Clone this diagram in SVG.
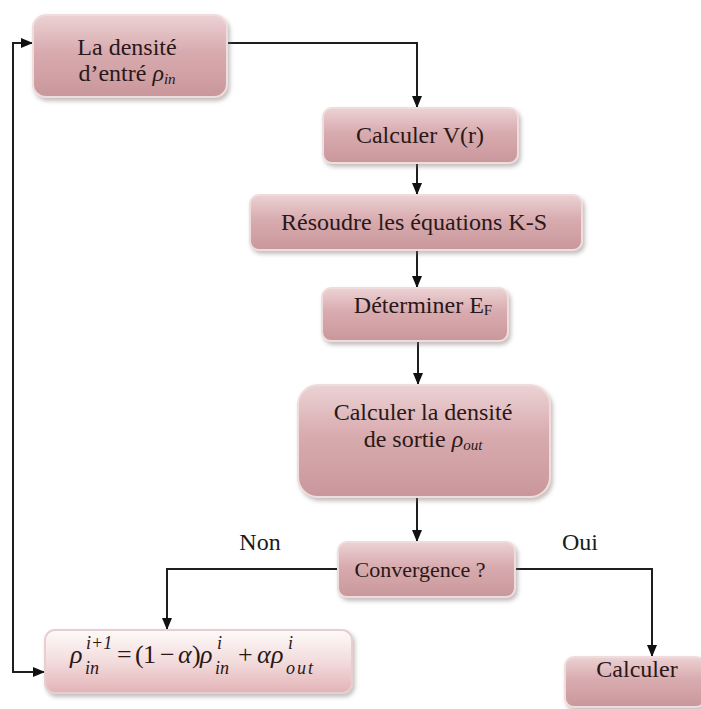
<svg xmlns="http://www.w3.org/2000/svg" width="701" height="709" viewBox="0 0 701 709">
<defs>
<linearGradient id="g" x1="0" y1="0" x2="0" y2="1">
<stop offset="0" stop-color="#ecd2d4"/>
<stop offset="0.45" stop-color="#d8abaf"/>
<stop offset="1" stop-color="#c9979b"/>
</linearGradient>
<linearGradient id="g2" x1="0" y1="0" x2="0" y2="1">
<stop offset="0" stop-color="#fefafa"/>
<stop offset="0.5" stop-color="#f3dcdd"/>
<stop offset="1" stop-color="#e2b3b6"/>
</linearGradient>
<filter id="sh" x="-10%" y="-10%" width="130%" height="140%">
<feDropShadow dx="2" dy="3" stdDeviation="2" flood-color="#7a6a6a" flood-opacity="0.45"/>
</filter>
<marker id="ar" viewBox="0 0 12 12" refX="11" refY="6" markerWidth="12" markerHeight="12" markerUnits="userSpaceOnUse" orient="auto">
<path d="M0,1 L12,6 L0,11 z" fill="#111"/>
</marker>
<style>
.box{fill:url(#g);stroke:#efdcdd;stroke-width:2;filter:url(#sh)}
.box2{fill:url(#g2);stroke:#e6cfd0;stroke-width:2;filter:url(#sh)}
text{font-family:'Liberation Serif','Times New Roman',serif;fill:#2a1818}
.t{font-size:24px;text-anchor:middle}
.lbl{font-size:24px;fill:#1a1a1a;text-anchor:middle}
.m{font-size:26px}
.i{font-size:26px;font-style:italic}
.s{font-size:18px;font-style:italic}
.c{fill:none;stroke:#1e1e1e;stroke-width:2}
</style>
</defs>
<rect width="701" height="709" fill="#ffffff"/>
<g id="connectors">
<path class="c" d="M227,43 H417 V107" marker-end="url(#ar)"/>
<path class="c" d="M417,164 V194" marker-end="url(#ar)"/>
<path class="c" d="M417,251 V287" marker-end="url(#ar)"/>
<path class="c" d="M418,342 V384" marker-end="url(#ar)"/>
<path class="c" d="M417,498 V541" marker-end="url(#ar)"/>
<path class="c" d="M338,569 H167 V629" marker-end="url(#ar)"/>
<path class="c" d="M515,569 H652 V656" marker-end="url(#ar)"/>
<path class="c" d="M13,360 V43 H32" marker-end="url(#ar)"/>
<path class="c" d="M13,360 V672 H44" marker-end="url(#ar)"/>
</g>
<g id="n1">
<rect class="box" x="33" y="15" width="194" height="82" rx="13"/>
<text class="t" x="127" y="55">La densité</text>
<text class="t" x="127" y="81">d’entré <tspan font-style="italic">ρ</tspan><tspan font-style="italic" font-size="15" dy="3">in</tspan></text>
</g>
<g id="n2">
<rect class="box" x="323" y="108" width="195" height="55" rx="9"/>
<text class="t" x="420" y="143">Calculer V(r)</text>
</g>
<g id="n3">
<rect class="box" x="250" y="195" width="332" height="55" rx="9"/>
<text class="t" x="414" y="230">Résoudre les équations K-S</text>
</g>
<g id="n4">
<rect class="box" x="322" y="288" width="186" height="53" rx="9"/>
<text class="t" x="423" y="313">Déterminer E<tspan font-size="15" dy="2">F</tspan></text>
</g>
<g id="n5">
<rect class="box" x="298" y="385" width="252" height="112" rx="20"/>
<text class="t" x="423" y="420">Calculer la densité</text>
<text class="t" x="423" y="447">de sortie <tspan font-style="italic">ρ</tspan><tspan font-style="italic" font-size="15" dy="3">out</tspan></text>
</g>
<g id="n6">
<rect class="box" x="338" y="542" width="177" height="55" rx="9"/>
<text class="t" x="420" y="577" style="font-size:22px">Convergence  ?</text>
</g>
<g id="n7">
<rect class="box2" x="45" y="630" width="307" height="63" rx="10"/>
<text class="i" x="70" y="663">ρ</text>
<text class="s" x="85" y="674">in</text>
<text class="s" x="86" y="649">i+1</text>
<text class="m" x="117" y="663">=</text>
<text class="m" x="135" y="663">(</text>
<text class="m" x="143" y="663">1</text>
<text class="m" x="160" y="663">−</text>
<text class="i" x="178" y="663">α</text>
<text class="m" x="192" y="663">)</text>
<text class="i" x="200" y="663">ρ</text>
<text class="s" x="215" y="674">in</text>
<text class="s" x="217" y="649">i</text>
<text class="m" x="238" y="663">+</text>
<text class="i" x="257" y="663">α</text>
<text class="i" x="271" y="663">ρ</text>
<text class="s" x="286" y="674" style="letter-spacing:2px">out</text>
<text class="s" x="288" y="649">i</text>
</g>
<g id="n8">
<rect class="box" x="565" y="657" width="140" height="50" rx="9"/>
<text class="t" x="637" y="677">Calculer</text>
</g>
<g id="labels">
<text class="lbl" x="260" y="550">Non</text>
<text class="lbl" x="580" y="550">Oui</text>
</g>
</svg>
